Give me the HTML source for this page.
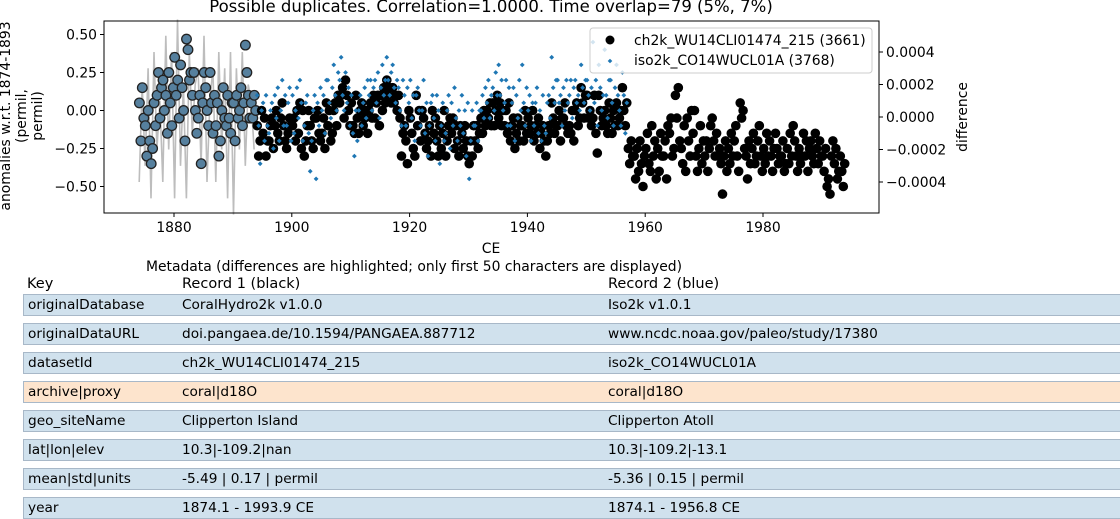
<!DOCTYPE html>
<html><head><meta charset="utf-8">
<style>
body{margin:0;background:#fff;width:1120px;height:514px;overflow:hidden;font-family:"DejaVu Sans","Liberation Sans",sans-serif;}
svg{position:absolute;left:0;top:0}
.row{position:absolute;left:23px;width:1100px;height:20px;border:1px solid #a8b8c8;background:#d0e1ed;}
.row.same{background:#fde4cd;}
.cell{position:absolute;top:0;line-height:20px;font-size:13.7px;white-space:nowrap;color:#000}
.hdr{position:absolute;top:275px;font-size:14.5px;line-height:18px;white-space:nowrap}
</style></head>
<body>
<svg id="chart" width="1120" height="514" font-family="DejaVu Sans, Liberation Sans, sans-serif">
<text x="491" y="12" font-size="16.5" text-anchor="middle" fill="#000">Possible duplicates. Correlation=1.0000. Time overlap=79 (5%, 7%)</text>
<g id="plot"></g>
<g id="axes"></g>
</svg>
<div id="table"></div>
<script>
const startYear=1874;
const blackVals=[
0.05,-0.2,0.15,-0.05, -0.1,-0.3,0.0,-0.2, -0.35,-0.25,0.05,-0.1, 0.1,0.25,-0.05,0.15, 0.2,0.0,0.1,-0.15,
0.25,0.05,-0.1,0.15, 0.35,0.1,0.2,-0.05, 0.3,0.15,0.0,-0.2, 0.47,0.4,0.2,0.25, 0.1,0.25,0.0,-0.15,
-0.05,0.1,-0.35,0.05, 0.25,0.15,0.0,-0.1, 0.25,0.05,-0.15,0.1, -0.1,0.05,-0.3,-0.2, 0.0,0.15,-0.05,-0.1,
0.1,-0.05,-0.15,0.05, 0.05,-0.2,0.1,-0.05, 0.0,0.15,-0.1,0.05, 0.43,0.25,0.1,-0.05, 0.05,-0.05,0.1,0.0,
-0.1,-0.3,-0.2,0.0, -0.15,-0.05,-0.3,-0.2, -0.2,-0.1,-0.05,-0.25, -0.1,0.0,-0.15,-0.2, -0.05,0.05,-0.1,-0.2,
-0.25,-0.15,-0.05,-0.1, -0.1,-0.05,-0.2,0.0, -0.15,0.05,-0.25,0.0, -0.3,-0.2,-0.1,0.0, -0.1,-0.2,-0.25,-0.05,
-0.05,0.0,-0.15,-0.2, -0.15,-0.05,-0.25,0.05, -0.1,0.0,-0.2,-0.15, 0.0,0.05,-0.1,0.1, 0.05,0.1,0.15,-0.05,
0.2,0.1,0.0,-0.1, 0.05,-0.1,-0.15,0.1, -0.05,-0.15,0.0,0.05, -0.1,-0.05,0.0,-0.15, 0.0,0.05,-0.05,0.1,
-0.05,0.05,0.1,-0.1, 0.1,0.0,0.15,0.05, 0.2,0.1,0.15,0.05, 0.15,0.05,0.1,0.0, 0.1,-0.05,-0.3,-0.15,
-0.1,-0.2,-0.35,0.0, -0.05,-0.15,-0.25,-0.3, 0.1,-0.1,0.0,-0.2, 0.0,-0.05,-0.15,-0.25, -0.2,-0.1,-0.3,0.0,
-0.15,-0.05,-0.2,-0.3, -0.1,-0.25,-0.15,0.0, -0.3,-0.2,-0.1,-0.05, -0.15,-0.05,-0.25,-0.1, -0.2,-0.3,-0.1,-0.15,
-0.25,-0.1,-0.2,-0.3, -0.35,-0.2,-0.3,-0.1, -0.2,-0.1,-0.25,-0.15, -0.05,-0.15,0.0,-0.1, 0.0,-0.05,0.05,-0.1,
0.05,-0.1,0.0,0.1, -0.05,0.05,-0.1,0.0, -0.1,0.0,-0.15,0.05, -0.2,-0.1,-0.05,-0.25, -0.15,-0.05,-0.2,-0.1,
-0.1,-0.2,0.0,-0.15, -0.05,-0.15,-0.1,0.0, -0.2,-0.1,-0.15,-0.05, -0.25,-0.15,-0.1,-0.2, -0.3,-0.2,-0.1,-0.15,
0.05,-0.05,-0.15,-0.1, -0.1,0.0,-0.2,-0.05, -0.05,0.05,-0.1,-0.15, -0.1,-0.15,0.0,-0.2, 0.0,0.05,-0.1,-0.05,
0.15,0.05,-0.05,0.1, 0.1,-0.05,0.0,-0.1, -0.05,0.1,-0.15,-0.28, 0.1,0.0,-0.1,-0.05, 0.0,-0.1,-0.15,0.05,
-0.05,-0.15,0.0,-0.1, 0.05,-0.1,-0.05,0.0, 0.15,0.0,-0.1,0.05, -0.25,-0.35,-0.2,-0.3, -0.3,-0.45,-0.25,-0.4,
-0.2,-0.35,-0.5,-0.3, -0.25,-0.15,-0.35,-0.4, -0.1,-0.3,-0.2,-0.45, -0.25,-0.4,-0.15,-0.3, -0.3,-0.2,-0.45,-0.1,
-0.15,-0.05,-0.3,-0.25, 0.1,-0.05,0.15,-0.2, -0.25,-0.35,-0.1,-0.4, -0.05,-0.2,-0.3,0.0, -0.15,0.0,-0.3,-0.4,
-0.25,-0.1,-0.35,-0.2, -0.3,-0.2,-0.4,-0.25, -0.1,-0.05,-0.2,-0.3, -0.15,-0.3,-0.25,-0.35, -0.55,-0.3,-0.2,-0.4,
-0.25,-0.35,-0.15,-0.3, -0.2,-0.1,-0.3,-0.4, 0.05,-0.05,0.0,-0.25, -0.3,-0.45,-0.2,-0.35, -0.25,-0.15,-0.35,-0.3,
-0.2,-0.1,-0.3,-0.4, -0.25,-0.35,-0.15,-0.3, -0.2,-0.3,-0.4,-0.25, -0.15,-0.25,-0.35,-0.3, -0.3,-0.2,-0.4,-0.35,
-0.25,-0.35,-0.15,-0.3, -0.1,-0.2,-0.3,-0.4, -0.25,-0.35,-0.3,-0.15, -0.3,-0.2,-0.4,-0.25, -0.2,-0.3,-0.35,-0.15,
-0.25,-0.35,-0.2,-0.3, -0.3,-0.4,-0.25,-0.5, -0.45,-0.55,-0.3,-0.2, -0.35,-0.25,-0.45,-0.4, -0.3,-0.4,-0.5,-0.35];
const blueStartYear=1894;
const blueVals=[
0.1,-0.1,-0.35,0.0, 0.05,-0.2,0.1,-0.1, -0.15,0.0,0.05,-0.25, 0.1,-0.05,0.15,-0.2, 0.0,0.2,-0.1,0.1,
-0.1,0.05,0.15,-0.2, 0.1,-0.15,0.0,0.15, -0.05,0.2,0.05,-0.2, -0.1,0.05,0.1,-0.15, -0.4,-0.2,0.0,0.1,
-0.45,0.05,-0.1,0.15, 0.0,0.1,-0.15,0.2, 0.2,0.05,-0.05,0.15, 0.3,0.1,0.0,0.25, 0.2,0.35,0.1,0.0,
0.25,0.05,0.15,-0.1, 0.1,-0.15,-0.3,0.0, -0.2,0.0,0.1,-0.1, 0.05,0.15,-0.05,0.2, 0.1,0.2,0.0,0.15,
0.2,0.05,0.25,-0.05, 0.15,0.3,0.1,0.2, 0.35,0.2,0.1,0.25, 0.3,0.15,0.05,0.2, 0.15,0.0,-0.1,0.2,
0.1,-0.1,0.15,0.05, 0.2,-0.05,0.1,-0.2, 0.1,0.15,0.0,-0.1, 0.0,0.2,-0.15,0.05, -0.3,-0.1,0.05,0.1,
-0.05,-0.2,0.1,0.0, -0.35,-0.1,0.05,-0.2, -0.15,0.0,0.1,-0.25, 0.05,-0.1,0.15,-0.05, -0.2,0.0,-0.1,0.1,
-0.15,0.0,-0.3,0.05, -0.45,-0.2,0.0,-0.1, -0.1,0.05,-0.2,0.0, 0.0,0.1,-0.05,0.15, 0.05,0.2,-0.05,0.1,
0.15,0.0,0.25,0.1, 0.3,0.1,0.2,0.0, 0.05,0.2,-0.1,0.15, -0.1,0.05,0.15,-0.2, 0.1,-0.05,0.2,0.0,
0.3,0.05,-0.1,0.15, 0.0,0.1,-0.2,0.05, -0.1,0.05,0.15,-0.15, 0.0,-0.2,0.1,-0.1, -0.15,0.05,0.1,-0.05,
0.35,0.15,0.05,0.2, 0.2,0.05,0.1,-0.1, 0.15,0.0,0.2,0.05, 0.1,0.2,-0.05,0.15, 0.2,0.05,0.1,0.0,
0.3,0.15,0.05,0.2, 0.2,0.1,0.0,0.15, 0.45,0.05,0.2,-0.1, 0.3,0.15,0.0,0.1, 0.4,0.1,-0.05,0.2,
0.2,0.05,-0.1,0.15, 0.3,0.1,0.0,-0.1, 0.25,0.1,-0.15,0.05];
const diffVals=[
-0.0004,0.0002,-0.0003,0.0003,-0.0005,0.0004,-0.0002,0.0001,-0.0004,0.0005,
-0.0002,0.0004,-0.0005,0.0006,-0.0003,0.0002,-0.0005,0.0004,-0.0001,0.0002,
0.0003,-0.0003,0.0005,-0.0004,0.0001,0.0003,-0.0004,0.0004,-0.0002,0.0003,
-0.0005,0.0004,-0.0006,0.0003,-0.0002,0.0004,-0.0003,0.0002,0.0001,-0.0002];
const xTicks=[1880,1900,1920,1940,1960,1980];
const yTicks=[0.5,0.25,0,-0.25,-0.5];
const yTickLabels=["0.50","0.25","0.00","\u22120.25","\u22120.50"];
const y2Ticks=[0.0004,0.0002,0,-0.0002,-0.0004];
const y2TickLabels=["0.0004","0.0002","0.0000","\u22120.0002","\u22120.0004"];
const tableKeys=["originalDatabase","originalDataURL","datasetId","archive|proxy","geo_siteName","lat|lon|elev","mean|std|units","year"];
const tableRec1=["CoralHydro2k v1.0.0","doi.pangaea.de/10.1594/PANGAEA.887712","ch2k_WU14CLI01474_215","coral|d18O","Clipperton Island","10.3|-109.2|nan","-5.49 | 0.17 | permil","1874.1 - 1993.9 CE"];
const tableRec2=["Iso2k v1.0.1","www.ncdc.noaa.gov/paleo/study/17380","iso2k_CO14WUCL01A","coral|d18O","Clipperton Atoll","10.3|-109.2|-13.1","-5.36 | 0.15 | permil","1874.1 - 1956.8 CE"];
const tableSame=[false,false,false,true,false,false,false,false];

const NS="http://www.w3.org/2000/svg";
const L=104,R=879,T=21,B=213;
const xs=y=>174+(y-1880)*5.89;
const ys=v=>110.5-v*152;
const y2s=v=>117-v*162500;
function mk(tag,attrs,parent){const e=document.createElementNS(NS,tag);for(const k in attrs)e.setAttribute(k,attrs[k]);parent.appendChild(e);return e;}
const plot=document.getElementById('plot'),axes=document.getElementById('axes'),table=document.getElementById('table');

let d='';diffVals.forEach((v,i)=>{d+=(i?'L':'M')+xs(startYear+0.1+i*0.5).toFixed(1)+','+y2s(v).toFixed(1);});
const dl=mk('path',{d:d,fill:'none',stroke:'#bdbdbd','stroke-width':1.6},plot);



blackVals.forEach((v,i)=>{const yr=startYear+(Math.floor(i/4))+((i%4)+0.5)/4;const early=yr<1894;
 const c=mk('circle',{cx:xs(yr).toFixed(1),cy:ys(v).toFixed(1),r:4.8,fill:early?'#56809e':'#000',stroke:early?'#222':'none','stroke-width':1.3},plot);
 
 });
blueVals.forEach((v,i)=>{const yr=blueStartYear+(Math.floor(i/4))+((i%4)+0.5)/4;const x=xs(yr),y=ys(v);
 const p=mk('path',{d:`M${x-2.4},${y}L${x},${y-2.4}L${x+2.4},${y}L${x},${y+2.4}Z`,fill:'#1f77b4'},plot);
 
 });

const fr=mk('rect',{x:L,y:T,width:R-L,height:B-T,fill:'none',stroke:'#000','stroke-width':1},axes);


xTicks.forEach(t=>{const x=xs(t);mk('line',{x1:x,x2:x,y1:B,y2:B+4,stroke:'#000'},axes);
 const tx=mk('text',{x:x,y:B+19,'font-size':13.9,'text-anchor':'middle'},axes);tx.textContent=t;
 
 });
yTicks.forEach((t,i)=>{const y=ys(t);mk('line',{x1:L-4,x2:L,y1:y,y2:y,stroke:'#000'},axes);
 const tx=mk('text',{x:L-7,y:y+5,'font-size':13.9,'text-anchor':'end'},axes);tx.textContent=yTickLabels[i];
 
 });
y2Ticks.forEach((t,i)=>{const y=y2s(t);mk('line',{x1:R,x2:R+4,y1:y,y2:y,stroke:'#000'},axes);
 const tx=mk('text',{x:R+7,y:y+5,'font-size':13.9},axes);tx.textContent=y2TickLabels[i];
 
 });
const xl=mk('text',{x:491,y:253,'font-size':13.9,'text-anchor':'middle'},axes);xl.textContent='CE';


const yl=mk('text',{'font-size':13.9,'text-anchor':'middle',transform:'translate(0,116) rotate(-90)'},axes);
['anomalies w.r.t. 1874-1893','(permil,','permil)'].forEach((s,i)=>{const ts=mk('tspan',{x:0,y:10+i*16},yl);ts.textContent=s;});


const y2l=mk('text',{'font-size':13.9,'text-anchor':'middle',transform:'translate(967,117) rotate(-90)'},axes);y2l.textContent='difference';



const lg=mk('g',{},axes);


mk('rect',{x:590,y:28,width:282,height:45,rx:3,fill:'rgba(255,255,255,0.8)',stroke:'#ccc'},lg);
mk('circle',{cx:610,cy:40,r:4.5,fill:'#000'},lg);
mk('path',{d:'M610,58.7L612.3,61L610,63.3L607.7,61Z',fill:'#1f77b4'},lg);
const l1=mk('text',{x:634,y:45,'font-size':13.9},lg);l1.textContent='ch2k_WU14CLI01474_215 (3661)';


const l2=mk('text',{x:634,y:65,'font-size':13.9},lg);l2.textContent='iso2k_CO14WUCL01A (3768)';



const cap=mk('text',{x:414,y:271,'font-size':13.9,'text-anchor':'middle'},axes);
cap.textContent='Metadata (differences are highlighted; only first 50 characters are displayed)';



function div(cls,parent,txt){const e=document.createElement('div');e.className=cls;if(txt!==undefined)e.textContent=txt;parent.appendChild(e);return e;}
[['Key',27],['Record 1 (black)',182],['Record 2 (blue)',608]].forEach(h=>{const t=div('hdr',table,h[0]);t.style.left=h[1]+'px';
 
 });
tableKeys.forEach((k,i)=>{
 const r=div('row'+(tableSame[i]?' same':''),table);r.style.top=(294+i*29)+'px';
 
 
 [[k,4],[tableRec1[i],158],[tableRec2[i],584]].forEach(c=>{const t=div('cell',r,c[0]);t.style.left=c[1]+'px';
  
  });});
</script>
</body></html>
